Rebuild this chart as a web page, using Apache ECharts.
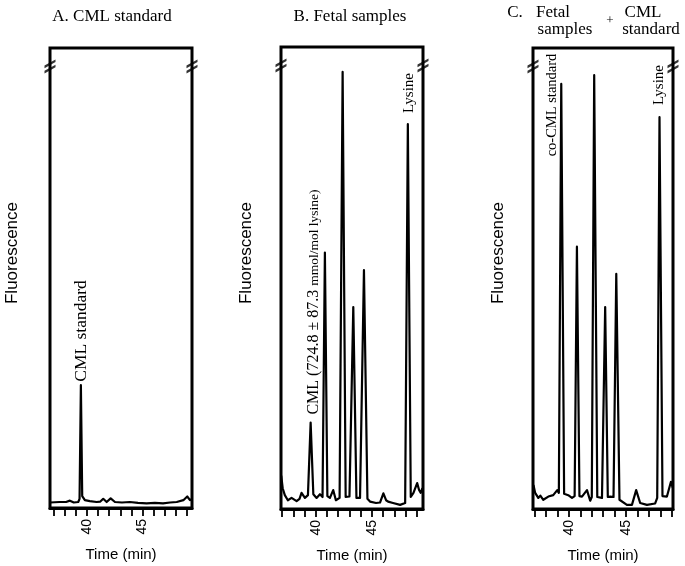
<!DOCTYPE html>
<html>
<head>
<meta charset="utf-8">
<script src="https://cdn.jsdelivr.net/npm/echarts@6/dist/echarts.min.js"></script>
<style>html,body{margin:0;padding:0;background:#fff}#c{width:685px;height:566px}</style>
</head>
<body>
<div id="c"></div>
<script>
// Time (min), fluorescence (relative units, 0-100 = frame height)
var seriesA = [
  [36.65,1.2],[37.5,1.3],[38.1,1.3],[38.45,1.6],[38.8,1.2],[39.2,1.3],[39.32,2.0],[39.44,26.7],[39.56,2.6],
  [39.8,1.7],[40.25,1.5],[40.86,1.3],[41.2,1.4],[41.46,2.0],[41.77,1.3],[42.13,2.1],[42.52,1.3],[43.15,1.2],
  [43.87,1.3],[44.6,1.1],[45.38,1.0],[46.13,1.1],[46.86,1.0],[47.5,1.2],[48.1,1.3],[48.7,1.7],[49.05,2.5],
  [49.3,1.7],[49.48,2.0]
];
var seriesB = [
  [36.92,7.2],[37.05,4.5],[37.24,3.0],[37.51,1.9],[37.84,2.4],[38.29,1.7],[38.55,2.2],[38.73,3.5],[39.03,2.4],
  [39.3,3.0],[39.54,18.7],[39.78,3.2],[40.07,2.4],[40.37,3.2],[40.6,2.6],[40.81,55.5],[41.03,2.8],[41.26,2.4],
  [41.55,4.1],[41.79,1.9],[42.12,2.4],[42.39,94.6],[42.66,2.6],[43.0,2.7],[43.34,43.7],[43.62,2.4],[43.94,2.4],
  [44.29,51.7],[44.6,2.2],[44.83,1.6],[45.37,1.3],[45.72,1.4],[46.02,3.4],[46.26,1.9],[46.44,1.6],[46.88,1.3],
  [47.51,0.9],[47.96,1.3],[48.2,83.3],[48.46,2.6],[48.7,3.5],[49.03,5.6],[49.2,4.1],[49.34,3.5],[49.5,4.5]
];
var seriesC = [
  [36.9,5.2],[37.05,3.5],[37.32,2.4],[37.5,2.9],[37.76,2.0],[38.2,2.7],[38.63,3.0],[38.98,4.1],[39.12,3.5],
  [39.33,92.2],[39.58,3.3],[39.94,3.0],[40.27,2.4],[40.5,2.8],[40.7,56.9],[40.92,2.8],[41.14,2.7],[41.58,4.1],
  [41.86,1.8],[42.0,2.6],[42.21,94.1],[42.48,2.6],[42.89,2.4],[43.17,43.8],[43.4,2.6],[43.61,2.7],[43.9,2.6],
  [44.14,51.0],[44.42,2.0],[44.55,2.0],[45.07,0.9],[45.51,0.9],[45.88,4.1],[46.23,1.3],[46.82,0.9],[47.54,1.2],
  [47.72,2.4],[47.92,85.0],[48.18,2.8],[48.57,2.7],[48.92,5.9],[49.08,4.6]
];
var tickValues = [37,38,39,40,41,42,43,44,45,46,47,48,49];
var labelValues = [40,45];
var xRanges = [[36.65,49.48],[36.9,49.55],[36.86,49.1]];
var breakValue = 96;

var SERIF = "'Liberation Serif','DejaVu Serif',serif";
var SANS = "'Liberation Sans',Arial,sans-serif";

var grids = [
  {left:50, right:493, top:48, bottom:58},
  {left:281, right:262, top:47, bottom:57},
  {left:533, right:12, top:48, bottom:57}
];
var traces = [seriesA, seriesB, seriesC];

var breakPath = 'path://M0,7 L12,0 L12,3 L0,10 Z M0,13 L12,6 L12,9 L0,16 Z';

var option = {
  backgroundColor:'#fff',
  animation:false,
  grid: grids.map(function(g){return Object.assign({show:true,borderColor:'#000',borderWidth:3,backgroundColor:'transparent',outerBoundsMode:'none',containLabel:false},g);}),
  xAxis: grids.map(function(g,i){return {
    type:'value', gridIndex:i, min:xRanges[i][0], max:xRanges[i][1],
    axisLine:{show:true,lineStyle:{color:'#000',width:3}},
    axisTick:{show:true,customValues:tickValues,length:8,inside:false,lineStyle:{color:'#000',width:1.8}},
    axisLabel:{show:true,customValues:labelValues,rotate:90,fontSize:14,color:'#000',fontFamily:SANS,margin:11},
    splitLine:{show:false},
    name:'Time (min)', nameLocation:'middle', nameGap:39,
    nameTextStyle:{fontSize:15,color:'#000',fontFamily:SANS}
  };}),
  yAxis: grids.map(function(g,i){return {
    type:'value', gridIndex:i, min:0, max:100, show:false
  };}),
  series: [],
  graphic: []
};
traces.forEach(function(d,i){
  option.series.push({type:'line',xAxisIndex:i,yAxisIndex:i,data:d,showSymbol:false,symbol:'none',
    lineStyle:{color:'#000',width:2.2,join:'round'},z:3});
  option.series.push({type:'scatter',xAxisIndex:i,yAxisIndex:i,
    data:[[xRanges[i][0],breakValue],[xRanges[i][1],breakValue]],
    symbol:breakPath,symbolSize:[11,14],itemStyle:{color:'#000'},z:5,silent:true});
});

function txt(x,y,text,size,family,rot,extra){
  var s = {text:text,fontSize:size,fontFamily:family,fill:'#000',textAlign:'center',textVerticalAlign:'middle'};
  if(extra) Object.assign(s,extra);
  return {type:'text',x:x,y:y,rotation:rot||0,style:s,z:10};
}
var R = Math.PI/2;
option.graphic = [
  txt(112,17,'A. CML standard',17,SERIF),
  txt(350,17,'B. Fetal samples',17,SERIF),
  txt(515,13,'C.',17,SERIF),
  txt(553,13,'Fetal',17,SERIF),
  txt(565,30,'samples',17,SERIF),
  txt(610,21,'+',13,SERIF),
  txt(643,13,'CML',17,SERIF),
  txt(651,30,'standard',17,SERIF),
  txt(12,253,'Fluorescence',17,SANS,R),
  txt(246,253,'Fluorescence',17,SANS,R),
  txt(498,253,'Fluorescence',17,SANS,R),
  txt(81,331,'CML standard',17.5,SERIF,R),
  txt(314,302,'{a|CML (724.8 ± 87.3} {b|mmol/mol lysine)}',16,SERIF,R,{rich:{a:{fontSize:16,fontFamily:SERIF,fill:'#000'},b:{fontSize:13.5,fontFamily:SERIF,fill:'#000'}}}),
  txt(409,93,'Lysine',15,SERIF,R),
  txt(552,105,'co-CML standard',14.5,SERIF,R),
  txt(659,85,'Lysine',15,SERIF,R)
];
var chart = echarts.init(document.getElementById('c'),null,{renderer:'canvas'});
chart.setOption(option);
</script>
</body>
</html>
